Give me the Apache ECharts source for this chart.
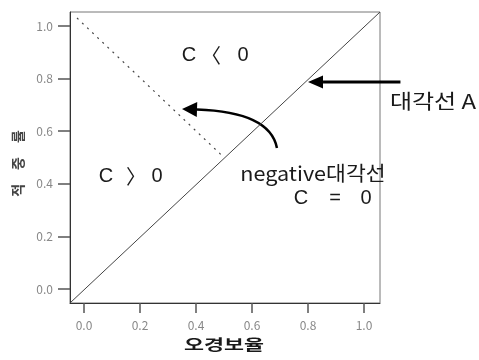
<!DOCTYPE html>
<html><head><meta charset="utf-8">
<script src="https://cdn.jsdelivr.net/npm/echarts@6/dist/echarts.min.js"></script>
<style>html,body{margin:0;padding:0;background:#fff}#c{width:479px;height:360px}</style>
</head><body><div id="c"></div>
<script>
// Axis ticks
const xTicks = [0, 0.2, 0.4, 0.6, 0.8, 1.0];
const yTicks = [0, 0.2, 0.4, 0.6, 0.8, 1.0];
// Diagonal A (C = 0), corner to corner
const diagX = [-0.05, 1.057];
const diagY = [-0.053, 1.053];
// Negative diagonal (dotted)
const negX = [-0.025, 0.5];
const negY = [1.03, 0.5];
// Arrow to diagonal A: tail -> tip
const arrowAX = [1.13, 0.80];
const arrowAY = [0.787, 0.787];
// Curved arrow to negative diagonal: tail, control, tip
const arrowNX = [0.689, 0.664, 0.35];
const arrowNY = [0.536, 0.673, 0.684];
// Text labels
const regionLabels = [['C', '〈', '0'], ['C', '〉', '0'], ['C', '=', '0']];
const negLabel = 'negative대각선';
const diagLabel = '대각선 A';
const xName = '오경보율';
const yName = '적　중　률';

const font = '"Noto Sans CJK KR", "Noto Sans", sans-serif';
const chart = echarts.init(document.getElementById('c'), null, {renderer: 'canvas'});
const zip = (a, b) => a.map((v, i) => [v, b[i]]);
const XMIN = -0.05, XMAX = 1.057, YMIN = -0.053, YMAX = 1.053;

chart.setOption({
  animation: false,
  grid: {left: 70, right: 99, top: 12, bottom: 57, show: true, borderColor: '#777', borderWidth: 1},
  xAxis: {
    type: 'value', min: XMIN, max: XMAX,
    axisLine: {show: true, onZero: false, lineStyle: {color: '#333', width: 1}},
    axisTick: {show: true, length: 10, customValues: xTicks, lineStyle: {color: '#555', width: 1.5}},
    axisLabel: {customValues: xTicks, formatter: v => v.toFixed(1), color: '#888', fontSize: 12, margin: 16, fontFamily: font},
    splitLine: {show: false}
  },
  yAxis: {
    type: 'value', min: YMIN, max: YMAX,
    name: yName, nameLocation: 'middle', nameGap: 45,
    nameTextStyle: {color: '#444', fontSize: 14, fontWeight: 'bold', fontFamily: font, padding: [0, 0, 0, -12]},
    axisLine: {show: true, onZero: false, lineStyle: {color: '#333', width: 1}},
    axisTick: {show: true, length: 12, customValues: yTicks, lineStyle: {color: '#555', width: 1.5}},
    axisLabel: {customValues: yTicks, formatter: v => v.toFixed(1), color: '#888', fontSize: 12, margin: 17, fontFamily: font},
    splitLine: {show: false}
  },
  series: [
    {type: 'line', data: zip(diagX, diagY), symbol: 'none', lineStyle: {color: '#444', width: 1}, clip: false},
    {type: 'line', data: zip(negX, negY), symbol: 'none', lineStyle: {color: '#444', width: 1.2, type: [2, 5]}, clip: false}
  ]
});

const P = (x, y) => chart.convertToPixel({gridIndex: 0}, [x, y]);
function head(tip, from, len, w) {
  const dx = tip[0] - from[0], dy = tip[1] - from[1];
  const d = Math.hypot(dx, dy); const ux = dx / d, uy = dy / d;
  const bx = tip[0] - ux * len, by = tip[1] - uy * len;
  return [tip, [bx - uy * w / 2, by + ux * w / 2], [bx + uy * w / 2, by - ux * w / 2]];
}
const aTail = P(arrowAX[0], arrowAY[0]), aTip = P(arrowAX[1], arrowAY[1]);
const nTail = P(arrowNX[0], arrowNY[0]), nCtl = P(arrowNX[1], arrowNY[1]), nTip = P(arrowNX[2], arrowNY[2]);
const aHead = head(aTip, aTail, 15, 13);
const nHead = head(nTip, nCtl, 15, 15);
const aBase = [(aHead[1][0] + aHead[2][0]) / 2, (aHead[1][1] + aHead[2][1]) / 2];
const nBase = [(nHead[1][0] + nHead[2][0]) / 2, (nHead[1][1] + nHead[2][1]) / 2];

const txt = (s, x, y, size, extra, w) => Object.assign({
  type: 'text', x: x, y: y,
  style: {text: s, fill: '#1a1a1a', font: (w || 'normal') + ' ' + size + 'px ' + font, align: 'center', verticalAlign: 'middle'}
}, extra || {});

const g = [
  {type: 'line', shape: {x1: aTail[0], y1: aTail[1], x2: aBase[0], y2: aBase[1]}, style: {stroke: '#000', lineWidth: 3}},
  {type: 'polygon', shape: {points: aHead}, style: {fill: '#000'}},
  {type: 'bezierCurve', shape: {x1: nTail[0], y1: nTail[1], cpx1: nCtl[0], cpy1: nCtl[1], x2: nBase[0], y2: nBase[1]}, style: {stroke: '#000', lineWidth: 2.5, fill: null}},
  {type: 'polygon', shape: {points: nHead}, style: {fill: '#000'}},
  txt(negLabel, 313, 173, 20, {scaleX: 1.08}),
  txt(diagLabel, 433, 101, 20, {scaleX: 1.2}),
  txt(xName, 224, 344, 15, {scaleX: 1.45}, 'bold')
];
const regionPos = [[[189, 55], [211, 55], [243, 55]], [[106, 176], [136, 176], [157, 176]], [[301, 198], [335, 198], [366, 198]]];
regionLabels.forEach((parts, i) => parts.forEach((p, j) => {
  const br = (p === '〈' || p === '〉');
  g.push({type: 'text', x: regionPos[i][j][0], y: regionPos[i][j][1],
    style: {text: p, fill: '#1a1a1a', font: '20px ' + (br ? '"Noto Sans CJK KR"' : '"Liberation Sans", sans-serif'), align: 'center', verticalAlign: 'middle'}});
}));
chart.setOption({graphic: g});
</script></body></html>
